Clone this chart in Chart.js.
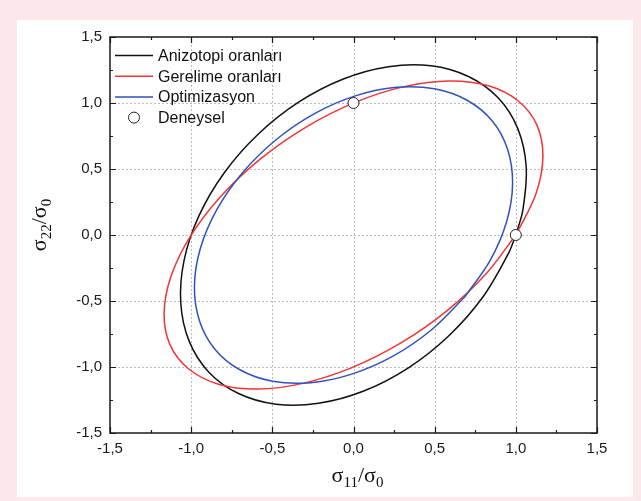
<!DOCTYPE html>
<html>
<head>
<meta charset="utf-8">
<script src="https://cdn.jsdelivr.net/npm/chart.js@4.4.1/dist/chart.umd.min.js"></script>
<style>
html,body{margin:0;padding:0;background:#fce8ea;}
#wrap{position:relative;width:641px;height:501px;overflow:hidden;background:#fce8ea;}
#panel{position:absolute;left:17px;top:20px;width:616px;height:477px;background:#ffffff;}
#c{position:absolute;left:0;top:0;}
</style>
</head>
<body>
<div id="wrap"><div id="panel"></div><canvas id="c" width="641" height="501"></canvas></div>
<script>
// ---- data ----
const seriesNames = ['Anizotopi oranları', 'Gerelime oranları', 'Optimizasyon', 'Deneysel'];

const anizotopiX = [1.000, 1.044, 1.064, 1.012, 0.891, 0.708, 0.478, 0.215, -0.063, -0.336, -0.586, -0.797, -0.953, -1.044, -1.064, -1.012, -0.891, -0.708, -0.478, -0.215, 0.063, 0.336, 0.586, 0.797, 0.953, 1.000];
const anizotopiY = [0.000, 0.194, 0.517, 0.806, 1.039, 1.201, 1.282, 1.275, 1.182, 1.008, 0.765, 0.470, 0.143, -0.194, -0.517, -0.806, -1.039, -1.201, -1.282, -1.275, -1.182, -1.008, -0.765, -0.470, -0.143, 0.000];

const gerelimeX = [1.005, 1.124, 1.167, 1.130, 1.015, 0.832, 0.592, 0.312, 0.010, -0.292, -0.575, -0.818, -1.005, -1.124, -1.167, -1.130, -1.015, -0.832, -0.592, -0.312, -0.010, 0.292, 0.575, 0.818, 1.005];
const gerelimeY = [0.010, 0.312, 0.592, 0.832, 1.015, 1.130, 1.167, 1.124, 1.005, 0.818, 0.575, 0.292, -0.010, -0.312, -0.592, -0.832, -1.015, -1.130, -1.167, -1.124, -1.005, -0.818, -0.575, -0.292, 0.010];

const optimizasyonX = [0.685, 0.843, 0.944, 0.980, 0.949, 0.854, 0.700, 0.499, 0.264, 0.011, -0.243, -0.481, -0.685, -0.843, -0.944, -0.980, -0.949, -0.854, -0.700, -0.499, -0.264, -0.011, 0.243, 0.481, 0.685];
const optimizasyonY = [-0.470, -0.190, 0.104, 0.390, 0.649, 0.865, 1.021, 1.108, 1.119, 1.054, 0.918, 0.718, 0.470, 0.190, -0.104, -0.390, -0.649, -0.865, -1.021, -1.108, -1.119, -1.054, -0.918, -0.718, -0.470];

const deneyselX = [0.0, 1.0];
const deneyselY = [1.0, 0.0];

const majorTickValues = [-1.5, -1.0, -0.5, 0.0, 0.5, 1.0, 1.5];
const minorTickValues = [-1.25, -0.75, -0.25, 0.25, 0.75, 1.25];
const gridValues = [-1.0, -0.5, 0.0, 0.5, 1.0];
const xTitleParts = ['σ', '11', '/σ', '0'];
const yTitleParts = ['σ', '22', '/σ', '0'];

// ---- styles ----
const colBlack = '#111111';
const colRed = '#f23434';
const colBlue = '#2f52be';
const sansFont = '"Liberation Sans", Arial, Helvetica, sans-serif';
const serifFont = '"Liberation Serif", "Times New Roman", serif';

const pts = (xs, ys) => xs.map((x, i) => ({x: x, y: ys[i]}));
const fmt = v => (Math.abs(v) < 1e-9 ? 0 : v).toFixed(1).replace('.', ',');

const curve = (label, xs, ys, color, order) => ({
  label, data: pts(xs, ys), showLine: true, borderColor: color, backgroundColor: color,
  borderWidth: 1.5, pointRadius: 0, pointHoverRadius: 0, tension: 0.34,
  cubicInterpolationMode: 'default', fill: false, order
});

const legendItems = [
  {text: seriesNames[0], color: colBlack, type: 'line'},
  {text: seriesNames[1], color: colRed, type: 'line'},
  {text: seriesNames[2], color: colBlue, type: 'line'},
  {text: seriesNames[3], color: colBlack, type: 'circle'}
];

function drawTitle(ctx, parts, cx, cy, rotate) {
  const big = '22px ' + serifFont;
  const small = '15px ' + serifFont;
  const segs = parts.map((t, i) => ({t, font: i % 2 === 0 ? big : small, dy: i % 2 === 0 ? 0 : 5}));
  let total = 0;
  segs.forEach(s => { ctx.font = s.font; s.w = ctx.measureText(s.t).width; total += s.w; });
  ctx.save();
  ctx.translate(cx, cy);
  if (rotate) ctx.rotate(-Math.PI / 2);
  ctx.fillStyle = '#111';
  ctx.textBaseline = 'alphabetic';
  ctx.textAlign = 'left';
  let xx = -total / 2;
  segs.forEach(s => { ctx.font = s.font; ctx.fillText(s.t, xx, s.dy); xx += s.w; });
  ctx.restore();
}

const decor = {
  id: 'decor',
  beforeDatasetsDraw(chart) {
    const {ctx, chartArea: a, scales: {x, y}} = chart;
    ctx.save();
    ctx.strokeStyle = '#bdbdbd';
    ctx.lineWidth = 1;
    ctx.setLineDash([2, 2]);
    gridValues.forEach(v => {
      const px = Math.round(x.getPixelForValue(v)) + 0.5;
      ctx.beginPath(); ctx.moveTo(px, a.top); ctx.lineTo(px, a.bottom); ctx.stroke();
      const py = Math.round(y.getPixelForValue(v)) + 0.5;
      ctx.beginPath(); ctx.moveTo(a.left, py); ctx.lineTo(a.right, py); ctx.stroke();
    });
    ctx.restore();
  },
  afterDatasetsDraw(chart) {
    const {ctx, chartArea: a, scales: {x, y}} = chart;
    ctx.save();
    ctx.strokeStyle = '#1a1a1a';
    ctx.lineWidth = 1.5;
    ctx.strokeRect(a.left, a.top, a.right - a.left, a.bottom - a.top);
    ctx.lineWidth = 1.2;
    const ticks = (vals, len) => {
      vals.forEach(v => {
        const px = Math.round(x.getPixelForValue(v)) + 0.5;
        ctx.beginPath();
        ctx.moveTo(px, a.bottom); ctx.lineTo(px, a.bottom - len);
        ctx.moveTo(px, a.top); ctx.lineTo(px, a.top + len);
        ctx.stroke();
        const py = Math.round(y.getPixelForValue(v)) + 0.5;
        ctx.beginPath();
        ctx.moveTo(a.left, py); ctx.lineTo(a.left + len, py);
        ctx.moveTo(a.right, py); ctx.lineTo(a.right - len, py);
        ctx.stroke();
      });
    };
    ticks(majorTickValues, 6);
    ticks(minorTickValues, 3);

    // legend inside the plot
    const lx0 = a.left + 5, lx1 = a.left + 43, tx = a.left + 48;
    ctx.font = '16px ' + sansFont;
    ctx.textBaseline = 'middle';
    ctx.textAlign = 'left';
    legendItems.forEach((it, i) => {
      const yy = a.top + 18.5 + i * 20.7;
      if (it.type === 'line') {
        ctx.strokeStyle = it.color; ctx.lineWidth = 1.5;
        ctx.beginPath(); ctx.moveTo(lx0, yy); ctx.lineTo(lx1, yy); ctx.stroke();
      } else {
        ctx.fillStyle = '#fff'; ctx.strokeStyle = '#222'; ctx.lineWidth = 1;
        ctx.beginPath(); ctx.arc((lx0 + lx1) / 2, yy, 5.5, 0, Math.PI * 2); ctx.fill(); ctx.stroke();
      }
      ctx.fillStyle = '#111';
      ctx.fillText(it.text, tx, yy + 1);
    });
    ctx.restore();

    drawTitle(ctx, xTitleParts, (a.left + a.right) / 2 + 4, a.bottom + 49, false);
    drawTitle(ctx, yTitleParts, a.left - 64, (a.top + a.bottom) / 2 - 10, true);
  }
};

const tickStyle = {
  color: '#1a1a1a',
  font: {family: sansFont, size: 15},
  autoSkip: false, maxRotation: 0, minRotation: 0,
  callback: v => fmt(v)
};

new Chart(document.getElementById('c'), {
  type: 'line',
  data: {
    datasets: [
      {
        label: seriesNames[3], data: pts(deneyselX, deneyselY), showLine: false,
        pointRadius: 5.5, pointHoverRadius: 5.5, pointBorderWidth: 1,
        borderColor: '#222', backgroundColor: '#ffffff',
        pointBackgroundColor: '#ffffff', pointBorderColor: '#222', order: 0
      },
      curve(seriesNames[2], optimizasyonX, optimizasyonY, colBlue, 1),
      curve(seriesNames[1], gerelimeX, gerelimeY, colRed, 2),
      curve(seriesNames[0], anizotopiX, anizotopiY, colBlack, 3)
    ]
  },
  options: {
    responsive: false,
    animation: false,
    devicePixelRatio: 1,
    layout: {padding: {left: 0, top: 37, right: 44, bottom: 0}},
    plugins: {legend: {display: false}, tooltip: {enabled: false}, title: {display: false}},
    scales: {
      x: {
        type: 'linear', min: -1.5, max: 1.5,
        afterBuildTicks: s => { s.ticks = majorTickValues.map(v => ({value: v})); },
        afterFit: s => { s.height = 68; },
        ticks: Object.assign({padding: 7}, tickStyle),
        grid: {display: false, drawTicks: false},
        border: {display: false}
      },
      y: {
        type: 'linear', min: -1.5, max: 1.5,
        afterBuildTicks: s => { s.ticks = majorTickValues.map(v => ({value: v})); },
        afterFit: s => { s.width = 110; },
        ticks: Object.assign({padding: 8}, tickStyle),
        grid: {display: false, drawTicks: false},
        border: {display: false}
      }
    }
  },
  plugins: [decor]
});
</script>
</body>
</html>
